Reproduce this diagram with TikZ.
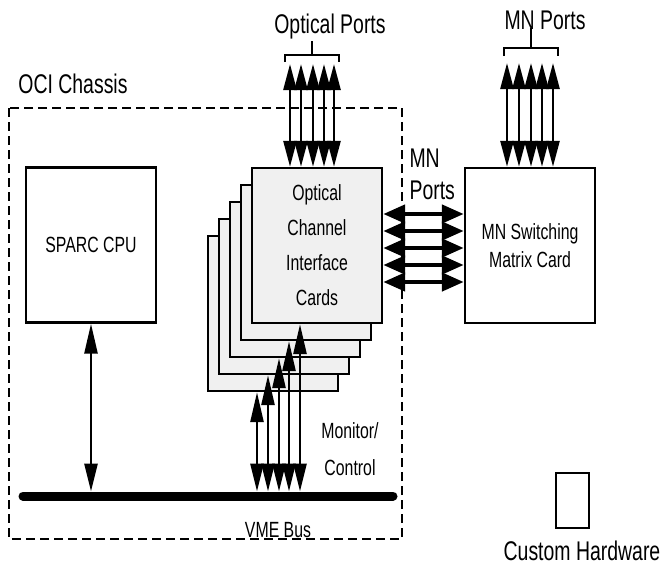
\documentclass[tikz,border=0pt]{standalone}
\usepackage{fontspec}
\setmainfont{Liberation Sans}[FakeStretch=0.72]
\usetikzlibrary{arrows.meta}
\tikzset{
  big/.style={font=\fontsize{27}{32}\selectfont},
  small/.style={font=\fontsize{22}{35}\selectfont},
  board/.style={draw,line width=2.4pt,fill=white,minimum width=130pt,
                minimum height=155pt,inner sep=0pt,align=center},
  card/.style={board,fill=black!6},
  chassis/.style={draw,line width=2pt,dash pattern=on 9pt off 5pt},
  port/.style={{Triangle[length=26pt,width=13pt]}-{Triangle[length=26pt,width=13pt]},
               line width=2.6pt},
  link/.style={{Triangle[length=22pt,width=18pt]}-{Triangle[length=22pt,width=18pt]},
               line width=4.5pt},
  ctl/.style={{Triangle[length=30pt,width=13pt]}-{Triangle[length=28pt,width=13pt]},
              line width=2.6pt},
  bus/.style={line width=9pt,line cap=round},
  brk/.style={line width=1.6pt},
}
\begin{document}
\begin{tikzpicture}[x=1pt,y=-1pt]
  \useasboundingbox (0,0) rectangle (662,568);
  % chassis outline
  \draw[chassis] (9,108) rectangle (402,539);
  \node[big] (oci) at (73,84) {OCI Chassis};
  \node[board,small] (cpu) at (91,245) {SPARC CPU};
  % stack of interface cards, back to front
  \foreach \k in {5,4,3,2}{\node[card] (card\k) at ({317-11*(\k-1)},{245.5+17*(\k-1)}) {};}
  \node[card,small] (card1) at (317,245.5) {Optical\\Channel\\Interface\\Cards};
  \node[board,font=\fontsize{22}{28}\selectfont] (mnsw) at (530,245.5)
    {MN Switching\\Matrix Card};
  % labels
  \node[big] (oplbl) at (330,27) {Optical Ports};
  \node[big] (mplbl) at (545,20) {MN Ports};
  \node[big,align=left,anchor=west] (mnlbl) at (406,174) {MN\\Ports};
  \node[font=\fontsize{22}{37}\selectfont,align=center] (monlbl) at (350,449)
    {Monitor/\\Control};
  \node[small] (vmelbl) at (278,530) {VME Bus};
  \node[draw,line width=2pt,minimum width=33pt,minimum height=55pt] (cust)
    at (572.5,500.5) {};
  \node[big] (custlbl) at (582,551) {Custom Hardware};
  % brackets
  \draw[brk] (285,62) -- (285,55) -- (339,55) -- (339,62);
  \draw[brk] (312,55) -- (312,41);
  \draw[brk] (504,56) -- (504,48) -- (558,48) -- (558,56);
  \draw[brk] (531,48) -- (531,28);
  % VME bus
  \coordinate (busW) at (23,496);
  \coordinate (busE) at (393,496);
  \coordinate (bustop) at (0,491.5);
  \draw[bus] (busW) -- (busE);
  % ports
  \foreach \x [count=\i] in {290,301,313,324,334}{
    \coordinate (op\i) at (\x,64);
    \draw[port] (op\i) -- (op\i |- card1.north);}
  \foreach \x [count=\i] in {507,519,531,542,553}{
    \coordinate (mp\i) at (\x,63);
    \draw[port] (mp\i) -- (mp\i |- mnsw.north);}
  \foreach \y [count=\i] in {214,231,248,265,282}{
    \coordinate (hl\i) at (0,\y);
    \draw[link] (hl\i -| card1.east) -- (hl\i -| mnsw.west);}
  % monitor / control
  \foreach \x/\k in {257/5,268/4,279/3,289/2,300/1}{
    \coordinate (mc\k) at (\x,491.5);
    \draw[ctl] (mc\k |- card\k.south) -- (mc\k);}
  \draw[ctl] (cpu.south) -- (cpu.south |- bustop);
\end{tikzpicture}
\end{document}
